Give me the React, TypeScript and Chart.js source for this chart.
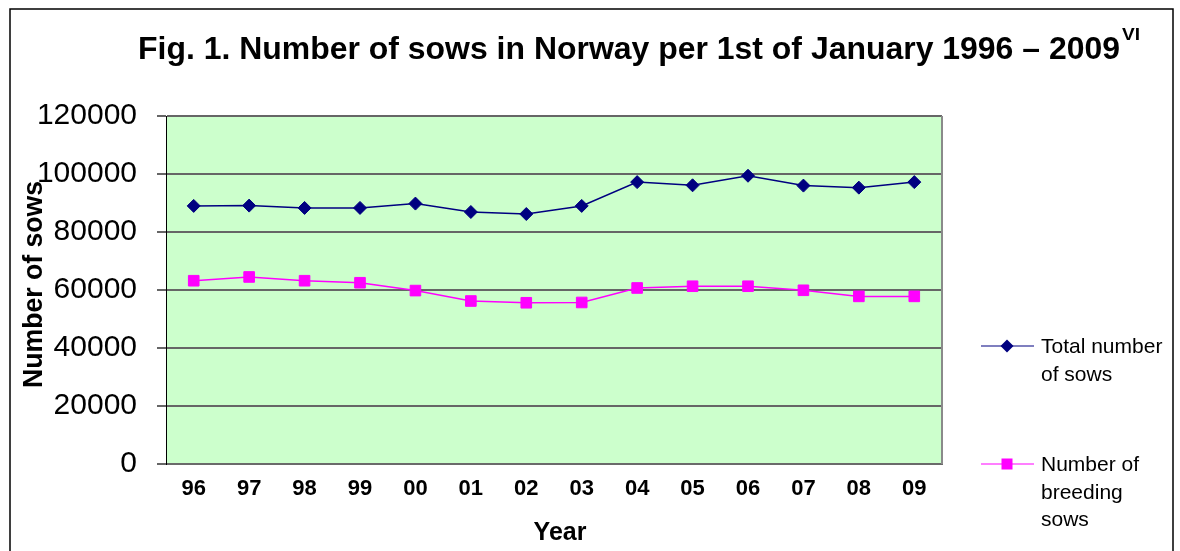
import React, { useEffect, useRef } from 'react';
import { Chart, registerables } from 'chart.js';

Chart.register(...registerables);

const years = ['96', '97', '98', '99', '00', '01', '02', '03', '04', '05', '06', '07', '08', '09'];
const totalSows = [89000, 89100, 88300, 88300, 89800, 86900, 86200, 89000, 97200, 96100, 99400, 96000, 95300, 97200];
const breedingSows = [63200, 64500, 63200, 62500, 59800, 56200, 55600, 55700, 60700, 61300, 61300, 59900, 57800, 57800];
const yMin = 0;
const yMax = 120000;
const yStep = 20000;

const titleText = 'Fig. 1. Number of sows in Norway per 1st of January 1996 \u2013 2009';
const titleSup = 'VI';
const yAxisTitle = 'Number of sows';
const xAxisTitle = 'Year';
const legendTotal = ['Total number', 'of sows'];
const legendBreeding = ['Number of', 'breeding', 'sows'];

const FONT = '"Liberation Sans", Arial, Helvetica, sans-serif';
const NAVY = '#000080';
const MAGENTA = '#FF00FF';

function drawFitted(ctx: CanvasRenderingContext2D, text: string, x: number, y: number, width: number) {
  const w = ctx.measureText(text).width;
  const s = width / w;
  ctx.save();
  ctx.translate(x, y);
  ctx.scale(s, 1);
  ctx.fillText(text, 0, 0);
  ctx.restore();
}

const decorPlugin = {
  id: 'decor',
  beforeDraw(chart: any) {
    const { ctx, chartArea } = chart;
    ctx.save();
    ctx.fillStyle = '#CCFFCC';
    ctx.fillRect(chartArea.left, chartArea.top, chartArea.right - chartArea.left, chartArea.bottom - chartArea.top);
    ctx.restore();
  },
  afterDraw(chart: any) {
    const { ctx, chartArea } = chart;
    ctx.save();
    // right border of plot area
    ctx.strokeStyle = '#8a8a8a';
    ctx.lineWidth = 2;
    ctx.beginPath();
    ctx.moveTo(chartArea.right, chartArea.top);
    ctx.lineTo(chartArea.right, chartArea.bottom);
    ctx.stroke();

    // outer frame
    ctx.strokeStyle = '#000';
    ctx.lineWidth = 1.5;
    ctx.beginPath();
    ctx.moveTo(10, 600);
    ctx.lineTo(10, 9);
    ctx.lineTo(1173, 9);
    ctx.lineTo(1173, 600);
    ctx.stroke();

    // title
    ctx.fillStyle = '#000';
    ctx.textBaseline = 'alphabetic';
    ctx.textAlign = 'left';
    ctx.font = `bold 31px ${FONT}`;
    drawFitted(ctx, titleText, 138, 59, 982);
    ctx.font = `bold 17px ${FONT}`;
    drawFitted(ctx, titleSup, 1122, 40, 18);

    // y axis title
    ctx.font = `bold 27px ${FONT}`;
    ctx.save();
    ctx.translate(42, 388);
    ctx.rotate(-Math.PI / 2);
    drawFitted(ctx, yAxisTitle, 0, 0, 207);
    ctx.restore();

    // x axis title
    ctx.font = `bold 25px ${FONT}`;
    const xw = ctx.measureText(xAxisTitle).width;
    ctx.fillText(xAxisTitle, 560 - xw / 2, 540);

    // legend
    ctx.font = `21px ${FONT}`;
    // total
    ctx.strokeStyle = NAVY;
    ctx.lineWidth = 1.2;
    ctx.beginPath();
    ctx.moveTo(981, 346);
    ctx.lineTo(1034, 346);
    ctx.stroke();
    ctx.fillStyle = NAVY;
    ctx.beginPath();
    ctx.moveTo(1007 - 6.5, 346);
    ctx.lineTo(1007, 346 - 6.5);
    ctx.lineTo(1007 + 6.5, 346);
    ctx.lineTo(1007, 346 + 6.5);
    ctx.closePath();
    ctx.fill();
    ctx.fillStyle = '#000';
    legendTotal.forEach((t, i) => ctx.fillText(t, 1041, 353 + i * 27.5));
    // breeding
    ctx.strokeStyle = MAGENTA;
    ctx.lineWidth = 1.2;
    ctx.beginPath();
    ctx.moveTo(981, 464);
    ctx.lineTo(1034, 464);
    ctx.stroke();
    ctx.fillStyle = MAGENTA;
    ctx.fillRect(1007 - 5.5, 464 - 5.5, 11, 11);
    ctx.fillStyle = '#000';
    legendBreeding.forEach((t, i) => ctx.fillText(t, 1041, 471 + i * 27.5));
    ctx.restore();
  },
};

export default function App() {
  const ref = useRef<HTMLCanvasElement | null>(null);

  useEffect(() => {
    if (!ref.current) return;
    const chart = new Chart(ref.current, {
      type: 'line',
      data: {
        labels: years,
        datasets: [
          {
            label: legendTotal.join(' '),
            data: totalSows,
            borderColor: NAVY,
            backgroundColor: NAVY,
            borderWidth: 1.5,
            pointStyle: 'rectRot',
            pointRadius: 6.5,
            pointBorderWidth: 1,
            pointBackgroundColor: NAVY,
            pointBorderColor: NAVY,
            tension: 0,
          },
          {
            label: legendBreeding.join(' '),
            data: breedingSows,
            borderColor: MAGENTA,
            backgroundColor: MAGENTA,
            borderWidth: 1.5,
            pointStyle: 'rect',
            pointRadius: 7.5,
            pointBorderWidth: 1,
            pointBackgroundColor: MAGENTA,
            pointBorderColor: MAGENTA,
            tension: 0,
          },
        ],
      },
      options: {
        responsive: false,
        animation: false,
        devicePixelRatio: 1,
        events: [],
        layout: { padding: { top: 116, right: 238, left: 0, bottom: 0 } },
        plugins: {
          legend: { display: false },
          title: { display: false },
          tooltip: { enabled: false },
        },
        scales: {
          x: {
            type: 'category',
            offset: true,
            grid: { display: false },
            border: { display: true, color: '#6a6a6a', width: 2 },
            ticks: {
              color: '#000',
              font: { family: FONT, size: 22, weight: 'bold' },
              padding: 4,
              maxRotation: 0,
              autoSkip: false,
            },
            afterFit: (scale: any) => {
              scale.height = 87;
            },
          },
          y: {
            min: yMin,
            max: yMax,
            grid: { color: '#666', lineWidth: 2, tickLength: 9, drawTicks: true },
            border: { display: true, color: '#000', width: 1 },
            ticks: {
              stepSize: yStep,
              color: '#000',
              font: { family: FONT, size: 30 },
              padding: 20,
              autoSkip: false,
              callback: (v: any) => String(v),
            },
            afterFit: (scale: any) => {
              scale.width = 166;
            },
          },
        },
      },
      plugins: [decorPlugin],
    });
    return () => chart.destroy();
  }, []);

  return (
    <div style={{ position: 'fixed', left: 0, top: 0, width: 1180, height: 551, background: '#fff' }}>
      <canvas ref={ref} width={1180} height={551} style={{ width: 1180, height: 551, display: 'block' }} />
    </div>
  );
}
